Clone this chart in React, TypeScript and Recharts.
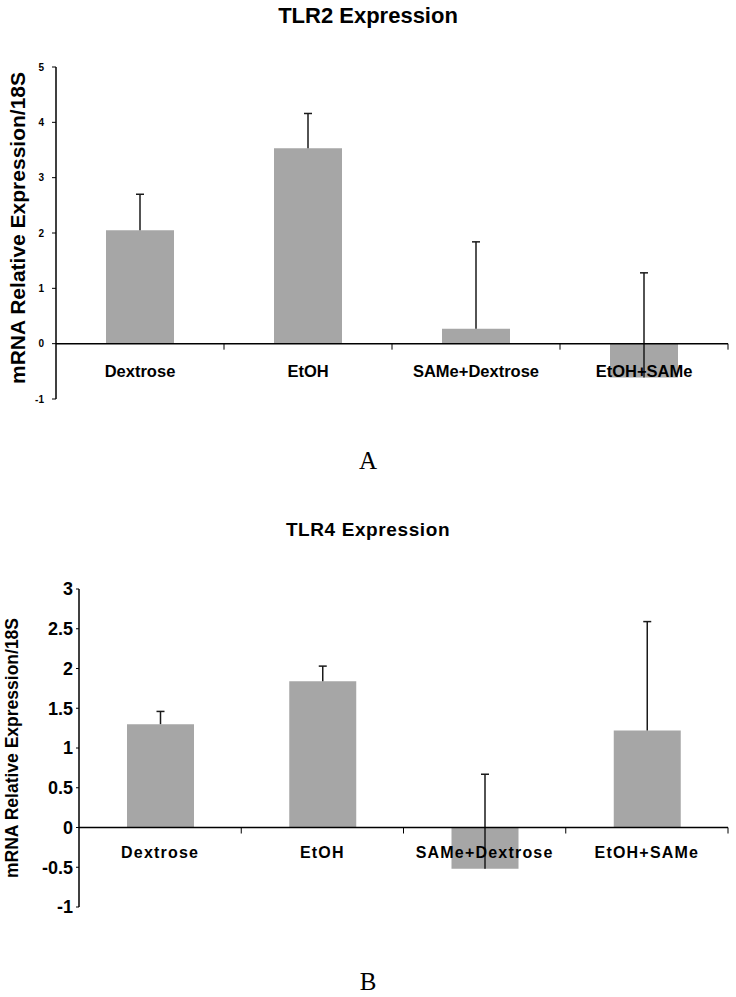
import React from 'react';
import {
    ComposedChart,
    Bar,
    XAxis,
    YAxis,
    ReferenceLine,
    Label,
} from 'recharts';

const categories = ['Dextrose', 'EtOH', 'SAMe+Dextrose', 'EtOH+SAMe'];

// TLR2 (panel A)
const tlr2Mean = [2.05, 3.53, 0.27, -0.61];
const tlr2Err = [0.65, 0.63, 1.57, 1.89];
const tlr2Ticks = [-1, 0, 1, 2, 3, 4, 5];

// TLR4 (panel B)
const tlr4Mean = [1.3, 1.84, -0.52, 1.22];
const tlr4Err = [0.16, 0.19, 1.19, 1.37];
const tlr4Ticks = [-1, -0.5, 0, 0.5, 1, 1.5, 2, 2.5, 3];

const BAR_FILL = '#a6a6a6';
const FONT = 'Arial, "Liberation Sans", Helvetica, sans-serif';
const W = 736;

function buildRows(means: number[], errs: number[]) {
    return categories.map((name, i) => ({
        name,
        mean: means[i],
        err: errs[i],
        range: [means[i], means[i] + errs[i]],
    }));
}

// whisker drawn only upward from the mean, with a cap at the top
function ErrorShape(props: any) {
    const { x, y, width, height } = props;
    const cx = x + width / 2;
    const top = Math.min(y, y + height);
    const bottom = Math.max(y, y + height);
    return (
        <g>
            <line x1={cx} y1={bottom} x2={cx} y2={top} stroke="#1a1a1a" strokeWidth={1.5} />
            <line x1={cx - 4} y1={top} x2={cx + 4} y2={top} stroke="#1a1a1a" strokeWidth={1.5} />
        </g>
    );
}

interface PanelProps {
    rows: ReturnType<typeof buildRows>;
    ticks: number[];
    height: number;
    marginTop: number;
    axisWidth: number;
    xAxisHeight: number;
    barSize: number;
    tickFont: number;
    tickSize: number;
    tickMargin: number;
    catFont: number;
    catDy: number;
    catSpacing: number;
    yLabelFont: number;
    yLabelX: number;
    yLabelYOffset: number;
}

function Panel(p: PanelProps) {
    const min = p.ticks[0];
    const max = p.ticks[p.ticks.length - 1];
    const plotTop = p.marginTop;
    const plotBottom = p.height - p.xAxisHeight;
    const plotH = plotBottom - plotTop;
    const zeroY = plotTop + (max / (max - min)) * plotH;
    const band = (W - 8 - p.axisWidth) / categories.length;
    const labelY = (plotTop + plotBottom) / 2 + p.yLabelYOffset;

    const CatTick = (props: any) => {
        const { x, payload } = props;
        return (
            <g>
                <line x1={x + band / 2} y1={zeroY} x2={x + band / 2} y2={zeroY + 6} stroke="#000" strokeWidth={1} />
                <text
                    x={x}
                    y={zeroY + p.catDy}
                    textAnchor="middle"
                    fontFamily={FONT}
                    fontWeight="bold"
                    fontSize={p.catFont}
                    letterSpacing={p.catSpacing}
                    fill="#000"
                >
                    {payload.value}
                </text>
            </g>
        );
    };

    return (
        <ComposedChart
            width={W}
            height={p.height}
            data={p.rows}
            margin={{ top: p.marginTop, right: 8, bottom: 0, left: 0 }}
            barCategoryGap={0}
        >
            <XAxis
                dataKey="name"
                height={p.xAxisHeight}
                axisLine={false}
                tickLine={false}
                tick={<CatTick />}
                interval={0}
            />
            <XAxis xAxisId="err" dataKey="name" hide />
            <YAxis
                width={p.axisWidth}
                domain={[min, max]}
                ticks={p.ticks}
                interval={0}
                axisLine={{ stroke: '#000', strokeWidth: 1.5 }}
                tickLine={{ stroke: '#000' }}
                tickSize={p.tickSize}
                tickMargin={p.tickMargin}
                tick={{ fill: '#000', fontSize: p.tickFont, fontWeight: 'bold', fontFamily: FONT }}
            >
                <Label
                    content={() => (
                        <text
                            x={p.yLabelX}
                            y={labelY}
                            transform={`rotate(-90 ${p.yLabelX} ${labelY})`}
                            textAnchor="middle"
                            fontFamily={FONT}
                            fontWeight="bold"
                            fontSize={p.yLabelFont}
                            fill="#000"
                        >
                            mRNA Relative Expression/18S
                        </text>
                    )}
                />
            </YAxis>
            <Bar dataKey="mean" fill={BAR_FILL} barSize={p.barSize} isAnimationActive={false} />
            <Bar
                xAxisId="err"
                dataKey="range"
                barSize={p.barSize}
                shape={<ErrorShape />}
                isAnimationActive={false}
            />
            <ReferenceLine y={0} stroke="#000" strokeWidth={1.5} />
        </ComposedChart>
    );
}

const titleStyle: React.CSSProperties = {
    position: 'absolute',
    left: 0,
    width: W,
    textAlign: 'center',
    fontFamily: FONT,
    fontWeight: 'bold',
    color: '#000',
    lineHeight: 1,
};

const letterStyle: React.CSSProperties = {
    position: 'absolute',
    left: 0,
    width: W,
    textAlign: 'center',
    fontFamily: '"Liberation Serif", "Times New Roman", serif',
    fontSize: 25,
    color: '#000',
    lineHeight: 1,
};

export default function App() {
    const tlr2Rows = buildRows(tlr2Mean, tlr2Err);
    const tlr4Rows = buildRows(tlr4Mean, tlr4Err);

    return (
        <div style={{ position: 'absolute', left: 0, top: 0, width: W, height: 997, background: '#fff' }}>
            <div style={{ ...titleStyle, top: 5, fontSize: 22 }}>TLR2 Expression</div>
            <div style={{ position: 'absolute', left: 0, top: 0 }}>
                <Panel
                    rows={tlr2Rows}
                    ticks={tlr2Ticks}
                    height={420}
                    marginTop={67}
                    axisWidth={56}
                    xAxisHeight={21}
                    barSize={68}
                    tickFont={10}
                    tickSize={4}
                    tickMargin={8}
                    catFont={16.5}
                    catDy={33}
                    catSpacing={0}
                    yLabelFont={21}
                    yLabelX={25}
                    yLabelYOffset={-5}
                />
            </div>
            <div style={{ ...letterStyle, top: 448 }}>A</div>

            <div style={{ ...titleStyle, top: 520, fontSize: 19, letterSpacing: 0.6 }}>TLR4 Expression</div>
            <div style={{ position: 'absolute', left: 0, top: 500 }}>
                <Panel
                    rows={tlr4Rows}
                    ticks={tlr4Ticks}
                    height={440}
                    marginTop={89}
                    axisWidth={79}
                    xAxisHeight={33}
                    barSize={67}
                    tickFont={18}
                    tickSize={3}
                    tickMargin={3}
                    catFont={16}
                    catDy={30}
                    catSpacing={1.2}
                    yLabelFont={17.5}
                    yLabelX={18}
                    yLabelYOffset={0}
                />
            </div>
            <div style={{ ...letterStyle, top: 969 }}>B</div>
        </div>
    );
}
